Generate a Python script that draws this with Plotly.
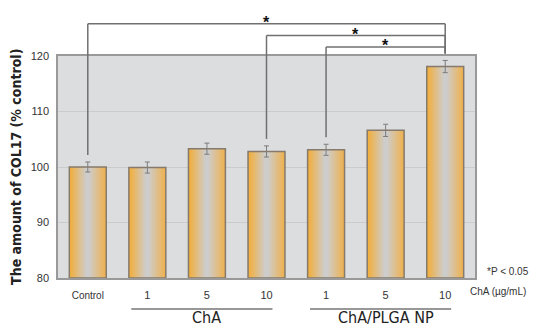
import plotly.graph_objects as go

# COL17 level per treatment (% of control), mean and error
categories = ["Control", "ChA 1", "ChA 5", "ChA 10",
              "ChA/PLGA NP 1", "ChA/PLGA NP 5", "ChA/PLGA NP 10"]
tick_labels = ["Control", "1", "5", "10", "1", "5", "10"]
col17_pct = [100.0, 99.9, 103.3, 102.8, 103.1, 106.6, 118.1]
col17_err = [0.9, 1.0, 1.0, 1.0, 1.0, 1.1, 1.1]
y_ticks = [80, 90, 100, 110, 120]

# treatment groups (label, first bar index, last bar index)
groups = [("ChA", 1, 3), ("ChA/PLGA NP", 4, 6)]
# significant pairs (*P < 0.05), drawn from the lowest bracket upward
comparisons = [(4, 6), (3, 6), (0, 6)]

Y_MIN, Y_MAX = 80, 120
HALF_W = 0.31
FONT = "Liberation Sans"
NARROW = "DejaVu Sans Condensed, Roboto, Liberation Sans, sans-serif"


def y_paper(v):
    return (v - Y_MIN) / (Y_MAX - Y_MIN)


fig = go.Figure()

# bars with a horizontal orange-grey-orange gradient
for i, v in enumerate(col17_pct):
    xs = [i - HALF_W, i + HALF_W, i + HALF_W, i - HALF_W, i - HALF_W]
    ys = [Y_MIN, Y_MIN, v, v, Y_MIN]
    fig.add_trace(go.Scatter(
        x=xs, y=ys, mode="lines", fill="toself",
        fillgradient=dict(type="horizontal",
                          colorscale=[[0, "#f4ad36"], [0.47, "#cdcdcd"],
                                      [0.53, "#cdcdcd"], [1, "#f0b04a"]]),
        line=dict(color="#857a6c", width=1.5),
        name=categories[i], showlegend=False, hoverinfo="skip",
    ))

# error bars
fig.add_trace(go.Scatter(
    x=list(range(len(col17_pct))), y=col17_pct, mode="markers",
    marker=dict(size=0.1, color="rgba(0,0,0,0)"),
    error_y=dict(type="data", array=col17_err, color="#7c7c7c",
                 thickness=1, width=2.5),
    showlegend=False, hoverinfo="skip",
))

shapes = []
annotations = []

# significance brackets
line_style = dict(color="#707070", width=1.5)
gap = 1.25
base = max(v + e for v, e in zip(col17_pct, col17_err)) + 2.4
step = 2.1
for level, (a, b) in enumerate(comparisons):
    top = base + level * step
    end_a = col17_pct[a] + col17_err[a] + gap
    end_b = col17_pct[b] + col17_err[b] + gap
    for x0, x1, y0, y1 in [(a, a, end_a, top), (a, b, top, top), (b, b, top, end_b)]:
        shapes.append(dict(type="line", xref="x", yref="paper",
                           x0=x0, x1=x1, y0=y_paper(y0), y1=y_paper(y1),
                           line=line_style, layer="above"))
    annotations.append(dict(x=(a + b) / 2, y=y_paper(top + 0.25), xref="x", yref="paper",
                            text="<b>*</b>", showarrow=False, yanchor="middle",
                            font=dict(family=FONT, size=16, color="#111")))

# group underlines and labels
for label, first, last in groups:
    shapes.append(dict(type="line", xref="x", yref="paper",
                       x0=first - 0.27, x1=last + 0.1, y0=-0.1396, y1=-0.1396,
                       line=dict(color="#333", width=1.2)))
    annotations.append(dict(x=(first + last) / 2, y=-0.178, xref="x", yref="paper",
                            text=label, showarrow=False, yanchor="middle",
                            font=dict(family=NARROW, size=16, color="#222")))

annotations += [
    dict(x=1.055, y=-0.063, xref="paper", yref="paper", text="ChA (µg/mL)",
         showarrow=False, yanchor="middle", xanchor="center",
         font=dict(family=FONT, size=10, color="#333")),
    dict(x=1.078, y=0.028, xref="paper", yref="paper", text="*P < 0.05",
         showarrow=False, yanchor="middle", xanchor="center",
         font=dict(family=FONT, size=10, color="#333")),
    dict(x=-0.101, y=0.5, xref="paper", yref="paper",
         text="<b>The amount of COL17 (% control)</b>", textangle=-90,
         showarrow=False, xanchor="center", yanchor="middle",
         font=dict(family=NARROW, size=14, color="#222")),
]

ticktext = [f"<span style='font-size:10px'>{t}</span>" if t == "Control" else t
            for t in tick_labels]

fig.update_layout(
    width=533, height=328,
    margin=dict(l=58, r=58, t=56, b=50),
    paper_bgcolor="white", plot_bgcolor="#dcdddf",
    font=dict(family=FONT, size=11, color="#333"),
    shapes=shapes, annotations=annotations,
    xaxis=dict(range=[-0.5, len(col17_pct) - 0.5], tickmode="array",
               tickvals=list(range(len(col17_pct))), ticktext=ticktext,
               showgrid=False, zeroline=False, showline=True, mirror=True,
               linecolor="#999", linewidth=1.5, ticks="", ticklabelstandoff=6,
               tickfont=dict(family=FONT, size=11, color="#333")),
    yaxis=dict(range=[Y_MIN, Y_MAX], tickmode="array", tickvals=y_ticks,
               showgrid=True, gridcolor="#cbcbcb", gridwidth=1, zeroline=False,
               showline=True, mirror=True, linecolor="#999", linewidth=1.5,
               ticks="", ticklabelstandoff=5,
               tickfont=dict(family=FONT, size=11, color="#333")),
)

fig.write_html("out.html")
